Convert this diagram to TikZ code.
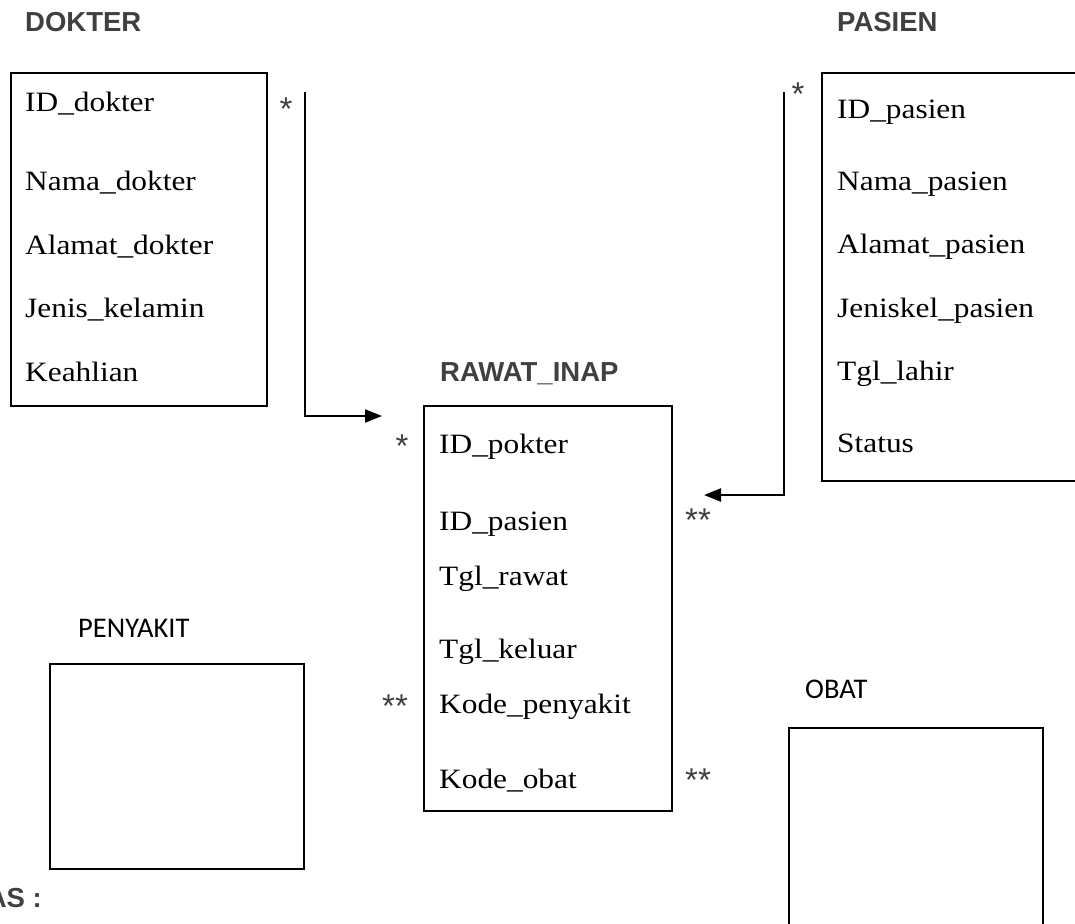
\documentclass[tikz,border=0pt]{standalone}
\usepackage{fontspec}
\setmainfont{Liberation Serif}
\newfontfamily\attrfont[FakeStretch=1.12]{Liberation Serif}
\newfontfamily\titlefont{Liberation Sans}
\newfontfamily\calfont{Carlito}
\usetikzlibrary{arrows.meta}
\definecolor{titlegray}{HTML}{404040}
\tikzset{
  entity/.style={draw, line width=2pt, inner sep=0pt, anchor=north west},
  attr/.style={anchor=base west, inner sep=0pt, font=\attrfont\fontsize{28}{28}\selectfont},
  titletext/.style={anchor=base west, inner sep=0pt, text=titlegray, font=\titlefont\bfseries\fontsize{27.5}{27.5}\selectfont},
  lbltext/.style={anchor=base west, inner sep=0pt, font=\calfont\fontsize{28.5}{28.5}\selectfont},
  mult/.style={anchor=base, inner sep=0pt, text=titlegray, font=\titlefont\fontsize{33}{33}\selectfont},
  link/.style={line width=2.2pt, -{Triangle[length=17pt,width=13pt]}}
}
\begin{document}
\begin{tikzpicture}[x=1pt,y=-1pt]
\useasboundingbox (0,0) rectangle (1075,923);
\clip (0,0) rectangle (1075,923);
% titles
\node[titletext] (tdokter) at (25,32) {DOKTER};
\node[titletext] (tpasien) at (837,32) {PASIEN};
\node[titletext] (trawat) at (440,381) {RAWAT\_INAP};
\node[lbltext] (tpenyakit) at (78,637) {PENYAKIT};
\node[lbltext] (tobat) at (805,698) {OBAT};
\node[titletext, anchor=base east] (tket) at (42,907) {AS :};
% boxes
\node[entity, minimum width=256pt, minimum height=333pt] (dokter) at (10,72) {};
\node[entity, minimum width=320pt, minimum height=408pt] (pasien) at (821,72) {};
\node[entity, minimum width=248pt, minimum height=405pt] (rawat) at (423,405) {};
\node[entity, minimum width=254pt, minimum height=205pt] (penyakit) at (49,663) {};
\node[entity, minimum width=254pt, minimum height=260pt] (obat) at (788,727) {};
% DOKTER attributes
\node[attr] (d1) at (25,112) {ID\_dokter};
\node[attr] (d2) at (25,190) {Nama\_dokter};
\node[attr] (d3) at (25,254) {Alamat\_dokter};
\node[attr] (d4) at (25,317) {Jenis\_kelamin};
\node[attr] (d5) at (25,381) {Keahlian};
% PASIEN attributes
\node[attr] (p1) at (837,118) {ID\_pasien};
\node[attr] (p2) at (837,190) {Nama\_pasien};
\node[attr] (p3) at (837,253) {Alamat\_pasien};
\node[attr] (p4) at (837,317) {Jeniskel\_pasien};
\node[attr] (p5) at (837,380) {Tgl\_lahir};
\node[attr] (p6) at (837,452) {Status};
% RAWAT_INAP attributes
\node[attr] (r1) at (439,453) {ID\_pokter};
\node[attr] (r2) at (439,530) {ID\_pasien};
\node[attr] (r3) at (439,585) {Tgl\_rawat};
\node[attr] (r4) at (439,658) {Tgl\_keluar};
\node[attr] (r5) at (439,713) {Kode\_penyakit};
\node[attr] (r6) at (439,788) {Kode\_obat};
% multiplicities
\node[mult] (m1) at (286,121) {*};
\node[mult] (m2) at (798,106) {*};
\node[mult] (m3) at (402,457) {*};
\node[mult] (m4) at (395,717) {**};
\node[mult] (m5) at (698,531) {**};
\node[mult] (m6) at (698,791) {**};
% connectors
\coordinate (dstart) at (305,92);
\coordinate (dtip) at (382,416);
\draw[link] (dstart) |- (dtip);
\coordinate (pstart) at (784,92);
\coordinate (ptip) at (704,495);
\draw[link] (pstart) |- (ptip);
\end{tikzpicture}
\end{document}
